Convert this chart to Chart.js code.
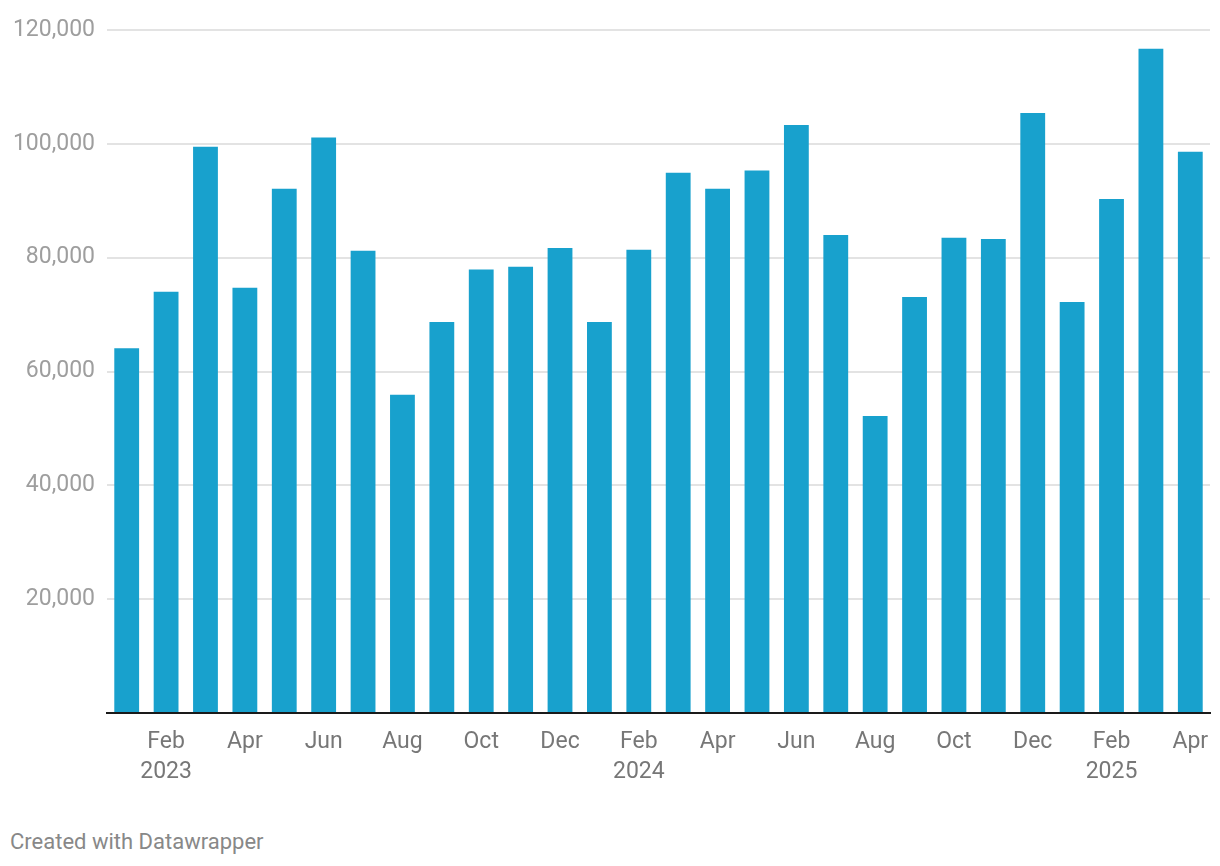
<!DOCTYPE html>
<html>
<head>
<meta charset="utf-8">
<script src="https://cdn.jsdelivr.net/npm/chart.js@4"></script>
<style>
    html, body { margin: 0; padding: 0; background: #fff; }
    #wrap { position: absolute; left: 0; top: 0; width: 1220px; height: 800px; }
    #credit { position: absolute; left: 10px; top: 829px; font: 22px Roboto, sans-serif; color: #888; }
</style>
</head>
<body>
<div id="wrap"><canvas id="barChart"></canvas></div>
<div id="credit">Created with Datawrapper</div>
<script>
// 월별 데이터
const months = [
    '2023-01','2023-02','2023-03','2023-04','2023-05','2023-06','2023-07','2023-08','2023-09','2023-10','2023-11','2023-12',
    '2024-01','2024-02','2024-03','2024-04','2024-05','2024-06','2024-07','2024-08','2024-09','2024-10','2024-11','2024-12',
    '2025-01','2025-02','2025-03','2025-04'
];
const values = [
    64100, 74000, 99500, 74700, 92100, 101100, 81200, 55900, 68700, 77900, 78400, 81700,
    68700, 81400, 94900, 92100, 95300, 103300, 84000, 52200, 73100, 83500, 83300, 105400,
    72200, 90300, 116700, 98600
];
const monthNames = ['Jan','Feb','Mar','Apr','May','Jun','Jul','Aug','Sep','Oct','Nov','Dec'];
const yTicks = [0, 20000, 40000, 60000, 80000, 100000, 120000];

// x축 라벨: 짝수 달만 표시, 2월에는 연도 추가
const xLabel = (i) => {
    const [y, m] = months[i].split('-').map(Number);
    if (m % 2 !== 0) return '';
    if (m === 2) return [monthNames[m - 1], String(y)];
    return monthNames[m - 1];
};

document.addEventListener('DOMContentLoaded', () => {
    const ctx = document.getElementById('barChart').getContext('2d');
    new Chart(ctx, {
        type: 'bar',
        data: {
            labels: months,
            datasets: [{
                data: values,
                backgroundColor: '#18a1cd',
                barPercentage: 0.9,
                categoryPercentage: 0.7
            }]
        },
        options: {
            responsive: true,
            maintainAspectRatio: false,
            animation: false,
            layout: { padding: { top: 30, right: 10, bottom: 0, left: 0 } },
            plugins: { legend: { display: false }, tooltip: { enabled: false } },
            scales: {
                x: {
                    grid: { display: false },
                    border: { color: '#1a1a1a', width: 2 },
                    ticks: {
                        autoSkip: false,
                        maxRotation: 0,
                        padding: 6,
                        color: '#777',
                        font: { family: 'Roboto', size: 23, lineHeight: 1.3 },
                        callback: (v, i) => xLabel(i)
                    },
                    afterFit: (s) => { s.height = 87; }
                },
                y: {
                    min: 0,
                    max: 120000,
                    afterBuildTicks: (s) => { s.ticks = yTicks.map(v => ({ value: v })); },
                    grid: {
                        color: (c) => c.tick && c.tick.value === 0 ? 'rgba(0,0,0,0)' : '#e3e3e3',
                        lineWidth: 2,
                        drawTicks: false
                    },
                    border: { display: false },
                    ticks: {
                        padding: 12,
                        color: '#9e9e9e',
                        font: { family: 'Roboto', size: 23 },
                        callback: (v) => v === 0 ? '' : v.toLocaleString('en-US')
                    },
                    afterFit: (s) => { s.width = 107; }
                }
            }
        }
    });
});
</script>
</body>
</html>
